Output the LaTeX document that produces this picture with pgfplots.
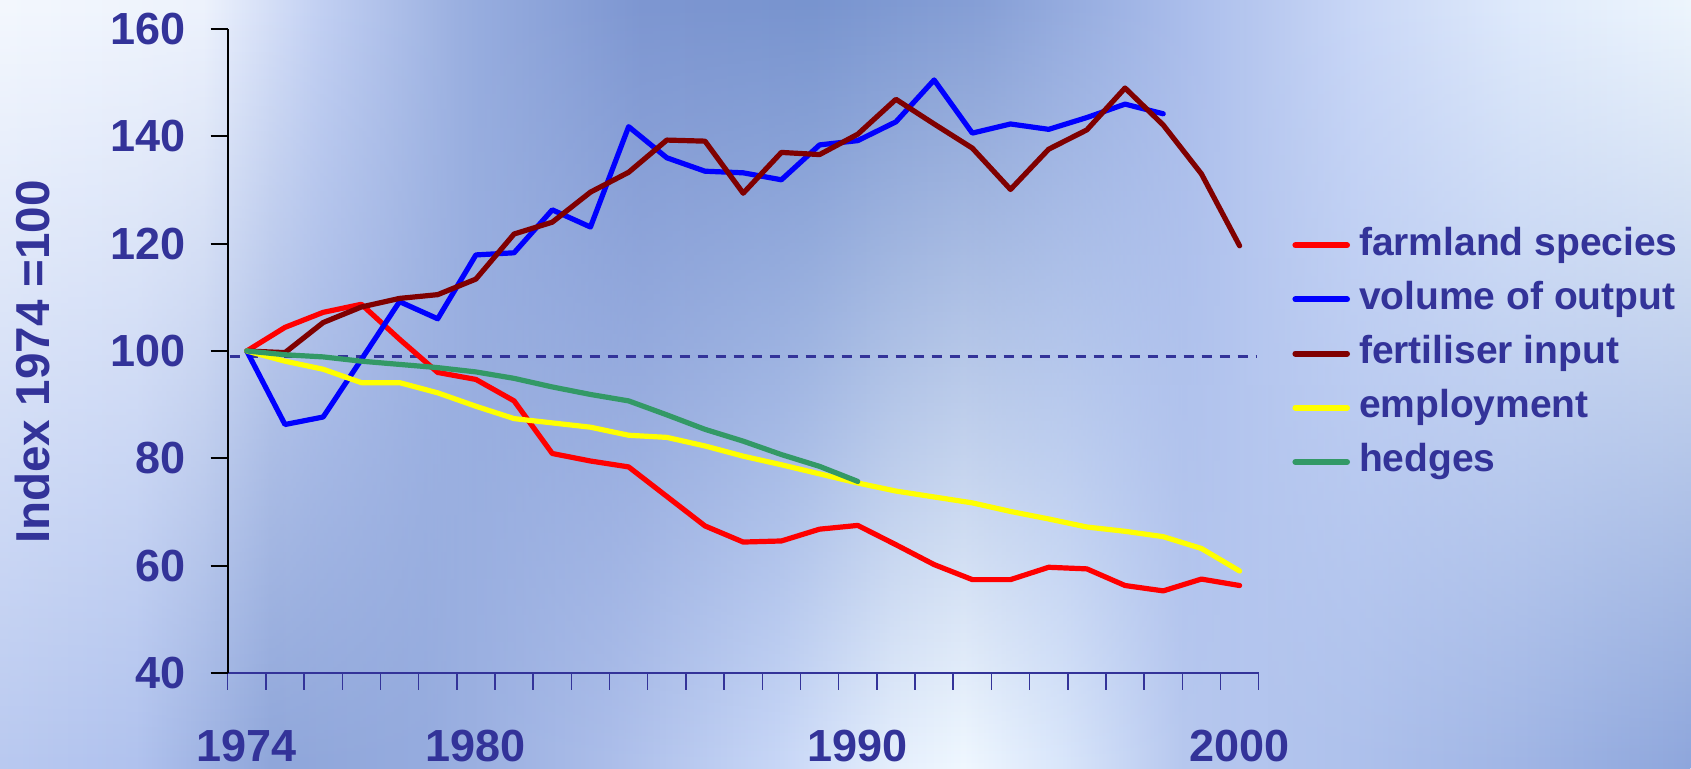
\documentclass[border=0pt]{standalone}
\usepackage{pgfplots}
\pgfplotsset{compat=1.18}
\usepackage{fontspec}
\setmainfont{Liberation Sans}
\usetikzlibrary{fadings}
\definecolor{txt}{HTML}{333399}
\definecolor{cRed}{HTML}{FF0000}
\definecolor{cBlue}{HTML}{0000FF}
\definecolor{cDark}{HTML}{800000}
\definecolor{cYel}{HTML}{FFFF00}
\definecolor{cGreen}{HTML}{339966}
% background colours, top row
\definecolor{tA}{HTML}{F4F8FE}\definecolor{tB}{HTML}{EEF3FD}\definecolor{tC}{HTML}{C2D0F3}
\definecolor{tD}{HTML}{97ADDF}\definecolor{tE}{HTML}{7D96D1}\definecolor{tF}{HTML}{7894CF}
\definecolor{tG}{HTML}{869FD6}\definecolor{tH}{HTML}{AABDEB}\definecolor{tI}{HTML}{C9D7F7}
\definecolor{tJ}{HTML}{E0EBFC}\definecolor{tK}{HTML}{EEF6FD}
% bottom row
\definecolor{bA}{HTML}{B9C9F0}\definecolor{bB}{HTML}{B0C2EE}\definecolor{bC}{HTML}{8FA6DA}
\definecolor{bD}{HTML}{95ABDE}\definecolor{bE}{HTML}{ACBEEA}\definecolor{bF}{HTML}{C8D7F7}
\definecolor{bG}{HTML}{E6F0FD}\definecolor{bH}{HTML}{F0F8FF}\definecolor{bI}{HTML}{D9E6FB}
\definecolor{bJ}{HTML}{B7C8EF}\definecolor{bK}{HTML}{AEC1EC}\definecolor{bL}{HTML}{A0B5E5}
\definecolor{bM}{HTML}{8EA6DC}
\pgfdeclarehorizontalshading{topbg}{100bp}{color(0bp)=(tA); color(25bp)=(tA); color(31bp)=(tB);
 color(34.5bp)=(tC); color(39bp)=(tD); color(44bp)=(tE); color(49bp)=(tF); color(54bp)=(tG);
 color(60bp)=(tH); color(65bp)=(tI); color(70bp)=(tJ); color(75bp)=(tK); color(100bp)=(tK)}
\pgfdeclarehorizontalshading{botbg}{100bp}{color(0bp)=(bA); color(25bp)=(bA); color(29bp)=(bB);
 color(33bp)=(bC); color(37.5bp)=(bD); color(43bp)=(bE); color(48bp)=(bF); color(51.5bp)=(bG);
 color(53.5bp)=(bH); color(56.5bp)=(bI); color(60bp)=(bJ); color(65bp)=(bK); color(70bp)=(bL);
 color(75bp)=(bM); color(100bp)=(bM)}
\tikzfading[name=fadeup, top color=transparent!100, bottom color=transparent!0]
\newcommand{\tickfont}{\fontsize{22.5}{27}\selectfont\bfseries}
\newcommand{\legfont}{\fontsize{19.5}{23}\selectfont\bfseries}
\begin{document}
\begin{tikzpicture}
\path[use as bounding box] (-113.85pt,-48pt) rectangle (731.65pt,336.5pt);
\shade[shading=topbg] (-113.85pt,-48pt) rectangle (731.65pt,336.5pt);
\shade[shading=botbg, path fading=fadeup] (-113.85pt,-48pt) rectangle (731.65pt,336.5pt);
\begin{axis}[
  at={(0,0)}, anchor=south west,
  width=515.5pt, height=322pt, scale only axis,
  xmin=1973.5, xmax=2000.5, ymin=40, ymax=160,
  axis x line*=bottom, axis y line*=left,
  x axis line style={txt, line width=1pt},
  y axis line style={black, line width=0.9pt},
  tick align=outside,
  major tick length=8.5pt,
  xtick={1973.5,1974.5,1975.5,1976.5,1977.5,1978.5,1979.5,1980.5,1981.5,1982.5,1983.5,1984.5,1985.5,1986.5,1987.5,1988.5,1989.5,1990.5,1991.5,1992.5,1993.5,1994.5,1995.5,1996.5,1997.5,1998.5,1999.5,2000.5},
  xticklabels={},
  xtick style={txt, line width=0.75pt},
  extra x ticks={1974,1980,1990,2000},
  extra x tick labels={1974,1980,1990,2000},
  extra x tick style={major tick length=0pt, tick style={draw=none},
     tick label style={anchor=base, yshift=-44.3pt}},
  ytick={40,60,80,100,120,140,160},
  ytick style={black, line width=0.9pt},
  yticklabel style={anchor=east, inner sep=0pt, xshift=-12.2pt},
  tick label style={font=\tickfont, text=txt},
  /pgf/number format/assume math mode=true,
  every axis y label/.style={at={(axis description cs:-0.17236,0.483)}, anchor=base, rotate=90,
     font=\fontsize{23.8}{28}\selectfont\bfseries, text=txt},
  ylabel={Index 1974 =100},
  legend style={at={(axis description cs:1.0323,0.496)}, anchor=west, draw=none, fill=none,
     inner sep=0pt, row sep=9.1pt, column sep=4.5pt, font=\legfont, text=txt,
     nodes={inner sep=0pt, text height=14pt, text depth=4pt}},
  legend cell align=left,
  legend image code/.code={\draw[#1, line width=3pt, line cap=round] (1.5pt,0pt) -- (27.3pt,0pt);},
  every axis plot/.append style={line width=2.6pt, line join=round, line cap=round},
]
\addplot[txt, line width=1.5pt, dash pattern=on 5.3pt off 3.7pt, line cap=butt, forget plot]
  coordinates {(1973.55,99.0) (2000.45,99.0)};
\addplot[cRed] coordinates {
(1974,100)(1975,104.4)(1976,107.2)(1977,108.7)(1978,102.2)(1979,96.0)(1980,94.7)(1981,90.7)
(1982,80.9)(1983,79.5)(1984,78.4)(1985,72.9)(1986,67.4)(1987,64.4)(1988,64.6)(1989,66.8)
(1990,67.5)(1991,63.9)(1992,60.2)(1993,57.4)(1994,57.4)(1995,59.7)(1996,59.4)(1997,56.3)
(1998,55.3)(1999,57.5)(2000,56.3)};
\addlegendentry{farmland species}
\addplot[cBlue] coordinates {
(1974,100)(1975,86.3)(1976,87.7)(1977,98.4)(1978,109.2)(1979,106.0)(1980,117.9)(1981,118.3)
(1982,126.3)(1983,123.1)(1984,141.8)(1985,136.0)(1986,133.5)(1987,133.2)(1988,131.9)(1989,138.4)
(1990,139.2)(1991,142.7)(1992,150.5)(1993,140.6)(1994,142.3)(1995,141.3)(1996,143.5)(1997,146.0)
(1998,144.2)};
\addlegendentry{volume of output}
\addplot[cDark] coordinates {
(1974,100)(1975,99.7)(1976,105.3)(1977,108.2)(1978,109.8)(1979,110.5)(1980,113.4)(1981,121.8)
(1982,124.0)(1983,129.6)(1984,133.3)(1985,139.3)(1986,139.1)(1987,129.4)(1988,137.0)(1989,136.6)
(1990,140.4)(1991,146.9)(1992,142.3)(1993,137.8)(1994,130.1)(1995,137.6)(1996,141.2)(1997,149.0)
(1998,142.1)(1999,133.0)(2000,119.6)};
\addlegendentry{fertiliser input}
\addplot[cYel] coordinates {
(1974,100)(1975,98.1)(1976,96.6)(1977,94.1)(1978,94.1)(1979,92.2)(1980,89.7)(1981,87.4)
(1982,86.6)(1983,85.8)(1984,84.3)(1985,83.9)(1986,82.3)(1987,80.4)(1988,78.8)(1989,77.1)
(1990,75.4)(1991,73.9)(1992,72.8)(1993,71.7)(1994,70.1)(1995,68.7)(1996,67.2)(1997,66.4)
(1998,65.4)(1999,63.2)(2000,59.0)};
\addlegendentry{employment}
\addplot[cGreen] coordinates {
(1974,100)(1975,99.3)(1976,98.9)(1977,98.1)(1978,97.5)(1979,96.9)(1980,96.1)(1981,94.9)
(1982,93.3)(1983,91.9)(1984,90.7)(1985,88.1)(1986,85.4)(1987,83.2)(1988,80.7)(1989,78.5)
(1990,75.7)};
\addlegendentry{hedges}
\end{axis}
\end{tikzpicture}
\end{document}
